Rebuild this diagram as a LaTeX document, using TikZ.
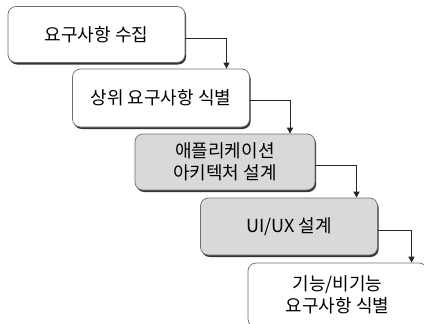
\documentclass[tikz,border=0pt]{standalone}
\usepackage{fontspec}
\setmainfont{Noto Sans CJK KR}
\usetikzlibrary{shadows,arrows.meta}
\definecolor{boxgray}{RGB}{217,217,217}
\definecolor{edgegray}{RGB}{110,110,110}
\tikzset{
  stepbox/.style={draw=edgegray, line width=0.7pt, rounded corners=8pt, fill=white,
    drop shadow={shadow xshift=1.2pt, shadow yshift=-2pt, fill=black!80, opacity=1},
    minimum width=177pt, minimum height=56pt, inner sep=0pt, align=center,
    font=\fontsize{18}{22}\selectfont},
  grayfill/.style={fill=boxgray},
  arr/.style={draw=black!85, line width=0.7pt, -{Triangle[length=6pt,width=6pt]}}
}
\begin{document}
\begin{tikzpicture}[x=1pt,y=-1pt]
\useasboundingbox (0,0) rectangle (424,324);
\clip (0,0) rectangle (424,324);
\node[stepbox] (b1) at (96.5,34.5) {요구사항 수집};
\node[stepbox, minimum height=58pt] (b2) at (161,98) {상위 요구사항 식별};
\node[stepbox, grayfill, minimum width=180pt] (b3) at (225,162) {애플리케이션\\아키텍처 설계};
\node[stepbox, grayfill, minimum height=57pt] (b4) at (289,226.5) {UI/UX 설계};
\node[stepbox, minimum height=64pt, minimum width=179pt] (b5) at (337.5,295) {기능/비기능\\요구사항 식별};
\coordinate (c1) at (226.5,38.5);
\coordinate (c2) at (290,100);
\coordinate (c3) at (356.5,165);
\coordinate (c4) at (411.5,230);
\draw[arr] (b1.east |- c1) -- (c1) -- (c1 |- b2.north);
\draw[arr] (b2.east |- c2) -- (c2) -- (c2 |- b3.north);
\draw[arr] (b3.east |- c3) -- (c3) -- (c3 |- b4.north);
\draw[arr] (b4.east |- c4) -- (c4) -- (c4 |- b5.north);
\end{tikzpicture}
\end{document}
